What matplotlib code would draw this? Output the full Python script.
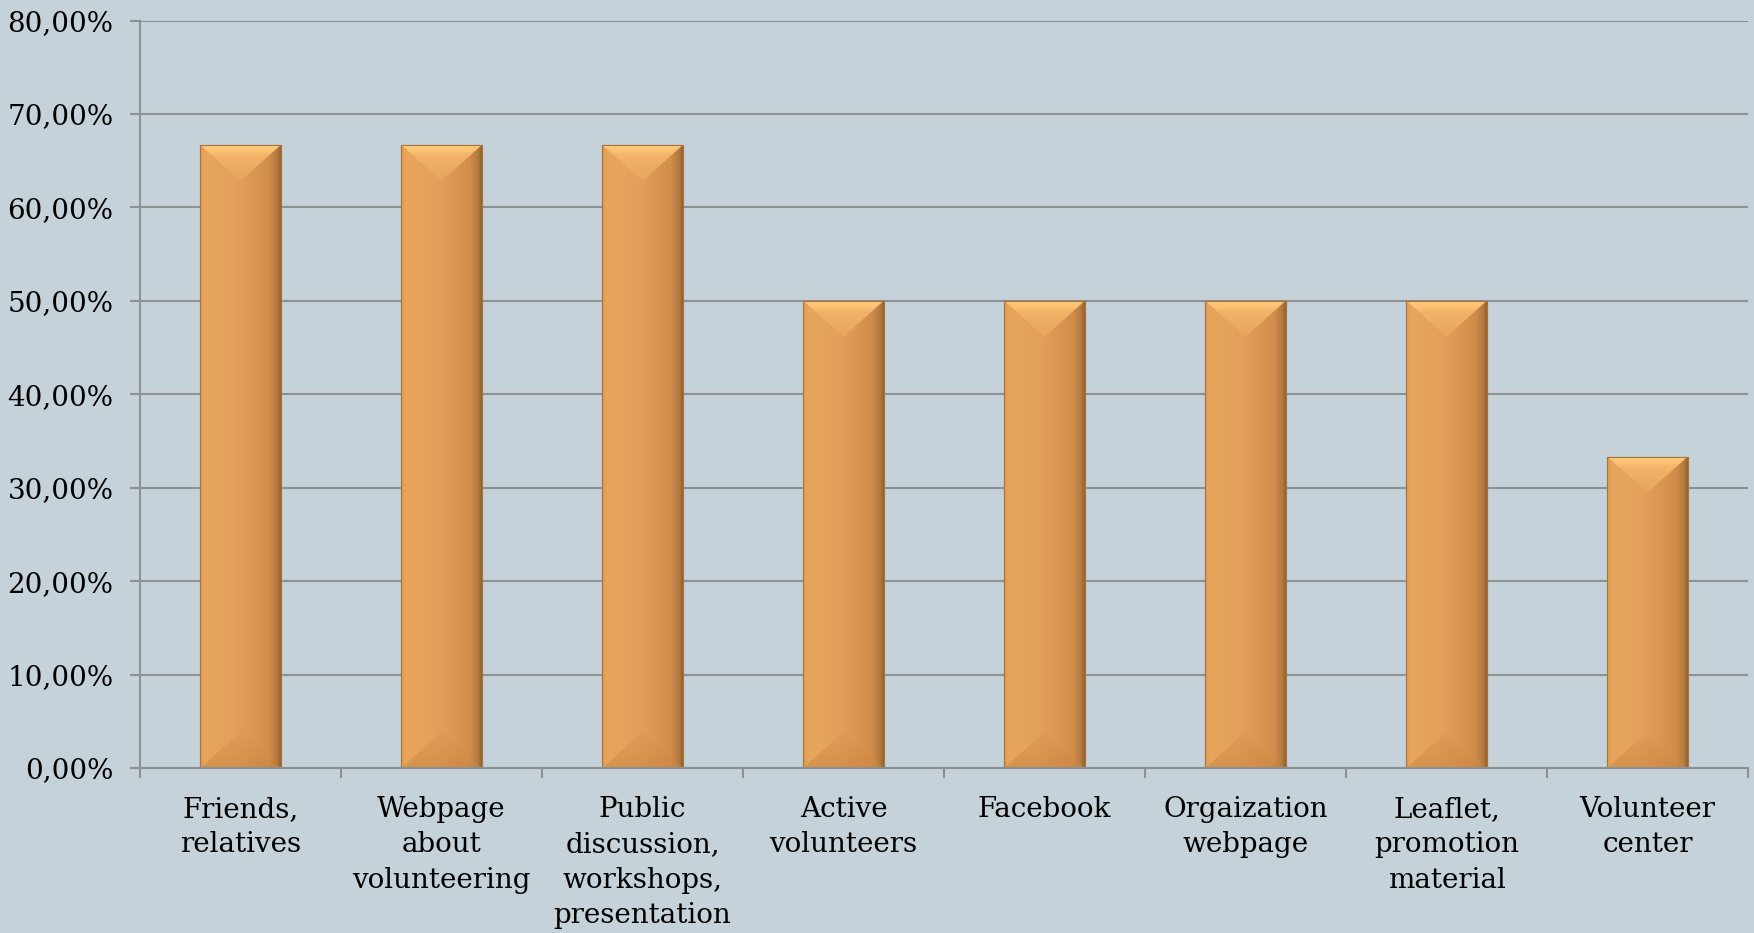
import numpy as np
import matplotlib
matplotlib.use('Agg')
import matplotlib.pyplot as plt
from matplotlib.colors import LinearSegmentedColormap
from matplotlib.patches import Polygon
from matplotlib.ticker import FuncFormatter

categories = ['Friends,\nrelatives', 'Webpage\nabout\nvolunteering',
              'Public\ndiscussion,\nworkshops,\npresentation', 'Active\nvolunteers',
              'Facebook', 'Orgaization\nwebpage', 'Leaflet,\npromotion\nmaterial',
              'Volunteer\ncenter']
values = [66.67, 66.67, 66.67, 50.0, 50.0, 50.0, 50.0, 33.33]
yticks = [0, 10, 20, 30, 40, 50, 60, 70, 80]

bg = '#C6D2D9'
grid_c = '#8E9192'

plt.rcParams['font.family'] = ['DejaVu Serif']

W, H = 1754, 933
fig = plt.figure(figsize=(W / 100, H / 100), dpi=100, facecolor=bg)
ax = fig.add_axes([140 / W, 1 - 768 / H, (1748 - 140) / W, (768 - 20.5) / H])
ax.set_facecolor(bg)

x = np.arange(len(categories))
bw = 0.4
bars = ax.bar(x, values, width=bw, color='#E39D55', edgecolor='#A8733C',
              linewidth=0.8, zorder=2)

# bevel look
body = LinearSegmentedColormap.from_list('body', [
    (0.0, '#DD9A52'), (0.06, '#E8A55C'), (0.45, '#E4A05A'),
    (0.85, '#D38D4B'), (0.95, '#B57A40'), (1.0, '#94632F')])
topc = LinearSegmentedColormap.from_list('top', [
    (0.0, '#E6A45C'), (0.7, '#F2B368'), (0.85, '#FDC272'), (1.0, '#FFCC7C')])
botc = LinearSegmentedColormap.from_list('bot', [
    (0.0, '#C98640'), (1.0, '#DE9A54')])

ax_h_px = ax.get_position().height * H
d = 36 / ax_h_px * 80
hgrad = np.linspace(0, 1, 256).reshape(1, -1)
vgrad = np.linspace(0, 1, 256).reshape(-1, 1)
for b in bars:
    x0 = b.get_x()
    x1 = x0 + b.get_width()
    xc = (x0 + x1) / 2
    h = b.get_height()
    im = ax.imshow(hgrad, extent=[x0, x1, 0, h], aspect='auto', cmap=body,
                   origin='lower', zorder=2.1)
    im.set_clip_path(b)
    tri = Polygon([(x0, h), (x1, h), (xc, h - d)], closed=True,
                  facecolor='none', edgecolor='none')
    ax.add_patch(tri)
    im2 = ax.imshow(vgrad, extent=[x0, x1, h - d, h], aspect='auto', cmap=topc,
                    origin='lower', zorder=2.2)
    im2.set_clip_path(tri)
    tri2 = Polygon([(x0, 0), (x1, 0), (xc, d)], closed=True,
                   facecolor='none', edgecolor='none')
    ax.add_patch(tri2)
    im3 = ax.imshow(vgrad, extent=[x0, x1, 0, d], aspect='auto', cmap=botc,
                    origin='lower', zorder=2.2, alpha=0.55)
    im3.set_clip_path(tri2)
    ax.bar(xc, h, width=bw, facecolor='none', edgecolor='#A8733C',
           linewidth=0.8, zorder=2.3)

ax.set_xlim(-0.5, len(categories) - 0.5)
ax.set_ylim(0, 80)
ax.set_yticks(yticks)
ax.yaxis.set_major_formatter(FuncFormatter(lambda v, p: f'{v:.2f}%'.replace('.', ',')))
ax.set_xticks(x)
ax.set_xticklabels(categories, fontsize=20, linespacing=1.4)
ax.set_xticks(np.arange(-0.5, len(categories), 1), minor=True)
ax.tick_params(axis='x', which='major', length=0, pad=20)
ax.tick_params(axis='x', which='minor', length=7, width=1.5, color=grid_c)
ax.tick_params(axis='y', length=7, width=1.5, color=grid_c, pad=12, labelsize=20)

ax.grid(axis='y', color=grid_c, linewidth=1.5, zorder=1)
ax.set_axisbelow(True)
for s in ['top', 'right']:
    ax.spines[s].set_visible(False)
for s in ['left', 'bottom']:
    ax.spines[s].set_color(grid_c)
    ax.spines[s].set_linewidth(1.5)

fig.savefig('out.png', dpi=100, facecolor=bg)
